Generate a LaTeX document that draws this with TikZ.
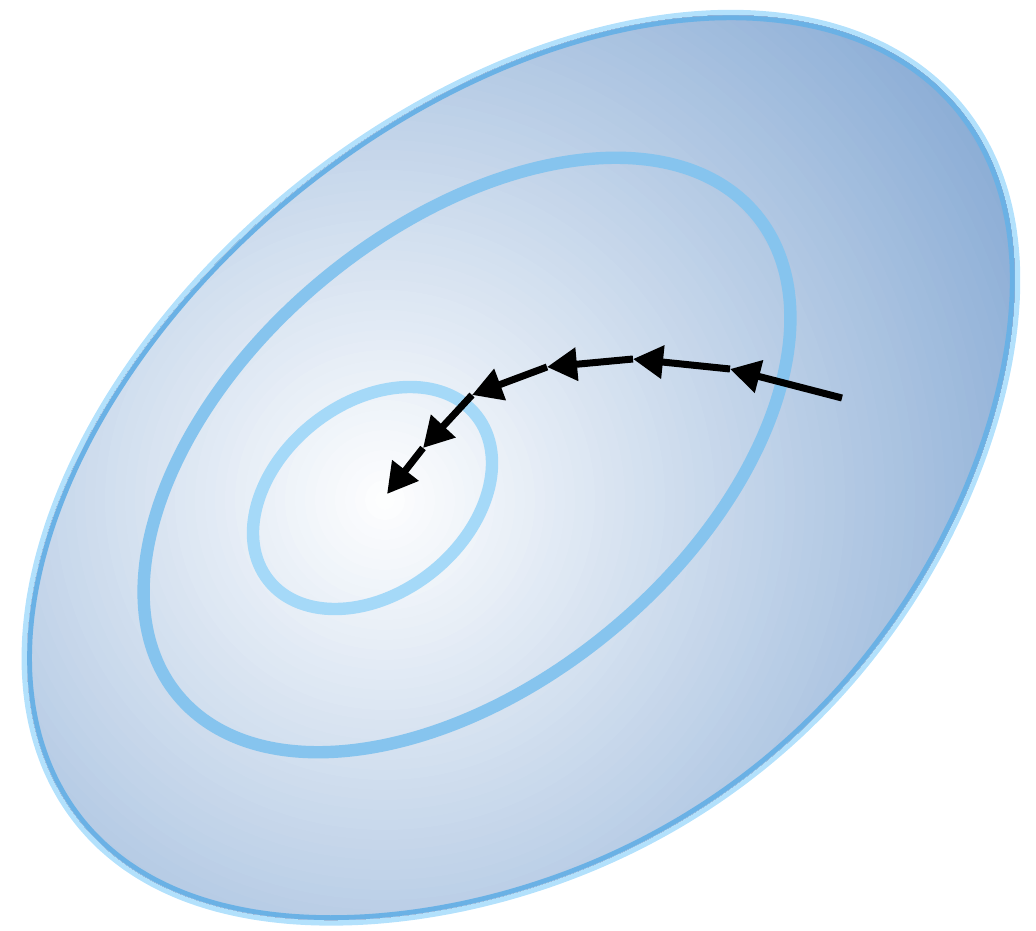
\documentclass[tikz,border=0pt]{standalone}
\usepackage{xcolor}
\definecolor{rimlight}{HTML}{B3E1FC}
\definecolor{rimdark}{HTML}{6AB1E5}
\definecolor{midline}{HTML}{86C4EE}
\definecolor{innerline}{HTML}{A5D9F8}
\definecolor{bowldeep}{HTML}{84A8D3}
\usepackage{tikz}
\usetikzlibrary{arrows.meta}

\begin{document}
\begin{tikzpicture}[
  x=0.025cm, y=-0.025cm,
  contour/.style={line width=3.1mm},
  descent/.style={line width=1.75mm, black,
    -{Triangle[length=7.5mm, width=8mm]}}
]
  \useasboundingbox (0,0) rectangle (1036,931);
  % outer level set: a tilted oval, a little fuller to the lower right
  \def\outerpath{plot[smooth cycle, domain=0:357.5, samples=144, variable=\t]
    ({520.5 + 566*cos(\t)*0.777 + 355.5*sin(\t)*(1+0.08*(max(0,sin(\t)))^3)*0.629},
     {466 - 566*cos(\t)*0.629 + 355.5*sin(\t)*(1+0.08*(max(0,sin(\t)))^3)*0.777})}

  \draw[rimlight, line width=2.8mm] \outerpath;
  \begin{scope}
    \clip \outerpath;
    \fill[bowldeep] (0,0) rectangle (1036,931);
    \foreach \r in {800,790,...,10}{
      \pgfmathsetmacro\shadepct{min(100,\r/7.5)}
      \fill[bowldeep!\shadepct!white] (385,500) circle[radius=\r];
    }
    \draw[rimdark, line width=2.4mm] \outerpath;
  \end{scope}

  % inner level sets
  \draw[contour, midline, rotate around={39.8:(467,455)}]
    (467,455) ellipse[x radius=376, y radius=227];
  \draw[contour, innerline, rotate around={38.4:(372.5,498)}]
    (372.5,498) ellipse[x radius=132.6, y radius=95];

  % descent steps
  \coordinate (p0) at (842,398);
  \coordinate (p1) at (730,369);
  \coordinate (p2) at (633,359);
  \coordinate (p3) at (547,367);
  \coordinate (p4) at (472,395);
  \coordinate (p5) at (423,448);
  \coordinate (p6) at (387,494);
  \foreach \a/\b in {p0/p1, p1/p2, p2/p3, p3/p4, p4/p5, p5/p6}
    \draw[descent] (\a) -- (\b);
\end{tikzpicture}
\end{document}
